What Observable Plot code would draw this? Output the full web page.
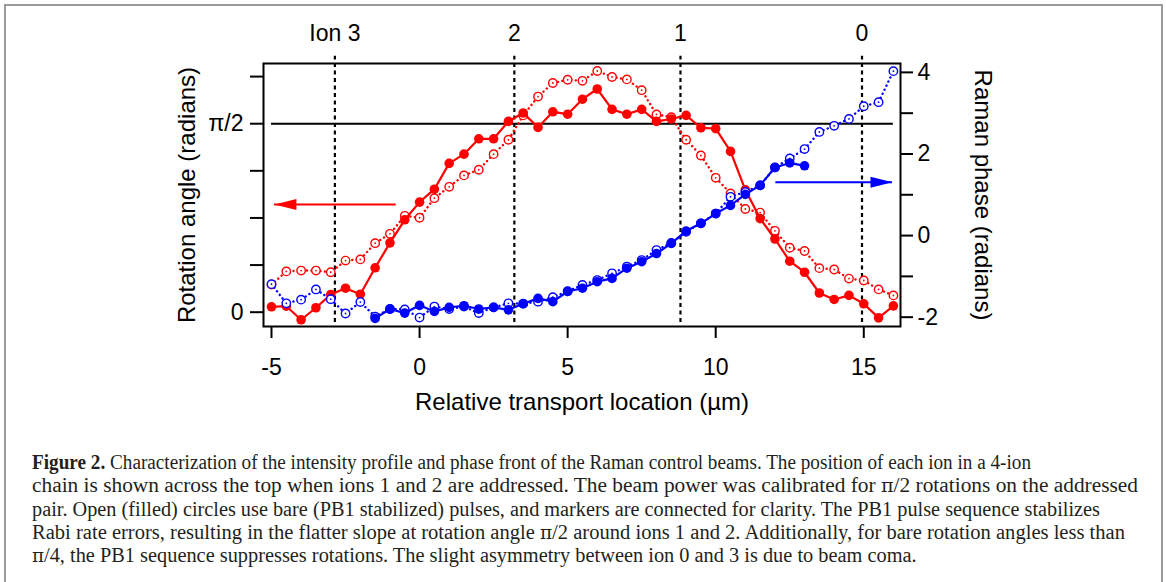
<!DOCTYPE html>
<html>
<head>
<meta charset="utf-8">
<script src="https://cdn.jsdelivr.net/npm/d3@7"></script>
<script src="https://cdn.jsdelivr.net/npm/@observablehq/plot@0.6"></script>
<style>
  html, body { margin: 0; padding: 0; background: #fff; width: 1166px; height: 582px; overflow: hidden; position: relative; }
  #border { position: absolute; left: 4px; top: 4px; width: 1155px; height: 640px; border: 2px solid #9a9a9a; border-bottom: none; }
  #chart { position: absolute; left: 0; top: 0; }
  #caption { position: absolute; left: 32px; top: 451px; font-family: "Liberation Serif", "DejaVu Serif", serif; font-size: 20px; line-height: 23.3px; color: #231f20; }
  #caption .ln { display: block; white-space: nowrap; }
  #caption .ln span.in { display: inline-block; transform-origin: 0 50%; }
  #caption i.pi { font-style: normal; font-family: "DejaVu Serif", serif; font-size: 18px; }
</style>
</head>
<body>
<div id="border"></div>
<div id="chart"></div>
<div id="caption"></div>
<script>
// ---- data ----
const xPos = [-5,-4.5,-4,-3.5,-3,-2.5,-2,-1.5,-1,-0.5,0,0.5,1,1.5,2,2.5,3,3.5,4,4.5,5,5.5,6,6.5,7,7.5,8,8.5,9,9.5,10,10.5,11,11.5,12,12.5,13,13.5,14,14.5,15,15.5,16];
// rotation angle (radians), bare pulses (open red)
const redOpen = [0.23,0.34,0.347,0.347,0.333,0.43,0.44,0.575,0.653,0.803,0.787,0.95,1.045,1.14,1.187,1.317,1.437,1.64,1.797,1.91,1.937,1.928,2.01,1.96,1.94,1.85,1.648,1.625,1.437,1.306,1.12,0.99,0.86,0.83,0.678,0.537,0.51,0.367,0.356,0.28,0.264,0.19,0.14];
// rotation angle (radians), PB1 pulses (filled red)
const redFilled = [0.045,0.05,-0.063,0.037,0.147,0.2,0.15,0.37,0.578,0.77,0.917,1.025,1.24,1.317,1.445,1.445,1.59,1.66,1.54,1.67,1.65,1.775,1.86,1.69,1.65,1.69,1.59,1.61,1.64,1.537,1.53,1.34,1.02,0.78,0.61,0.425,0.333,0.16,0.106,0.14,0.07,-0.047,0.053];
// Raman phase (radians), bare pulses (open blue)
const blueOpen = [-1.19,-1.66,-1.57,-1.32,-1.56,-1.91,-1.63,-1.985,-1.80,-1.81,-2.01,-1.74,-1.80,-1.74,-1.90,-1.76,-1.66,-1.67,-1.62,-1.51,-1.365,-1.21,-1.09,-0.925,-0.76,-0.6,-0.355,-0.18,0.09,0.3,0.54,0.95,1.07,1.23,1.67,1.89,2.12,2.54,2.69,2.86,3.17,3.27,4.03];
// Raman phase (radians), PB1 pulses (filled blue)
const xBlueFilled = [-1.5,-1,-0.5,0,0.5,1,1.5,2,2.5,3,3.5,4,4.5,5,5.5,6,6.5,7,7.5,8,8.5,9,9.5,10,10.5,11,11.5,12,12.5,13];
const blueFilled = [-2.03,-1.80,-1.90,-1.71,-1.86,-1.76,-1.72,-1.80,-1.76,-1.82,-1.67,-1.54,-1.62,-1.37,-1.29,-1.13,-1.05,-0.80,-0.64,-0.44,-0.19,0.11,0.30,0.54,0.74,1.01,1.23,1.67,1.78,1.71];

const ionPos = [-2.86, 3.2, 8.81, 14.94];
const ionLabels = ["Ion 3", "2", "1", "0"];
const xTicks = [-5, 0, 5, 10, 15];
const leftTicks = [0, Math.PI/8, Math.PI/4, 3*Math.PI/8, Math.PI/2, 5*Math.PI/8];
const leftTickLabels = ["0", "", "", "", "π/2", ""];
const rightTicks = [-2, -1, 0, 1, 2, 3, 4];
const rightTickLabels = ["-2", "", "0", "", "2", "", "4"];
const refAngle = [{y: Math.PI/2, from: -5, to: 16}];
// arrows: [start x, end x, level (left-axis units for red, phase for blue)]
const redArrow = [{from: -0.79, to: -4.9, level: 0.898}];
const blueArrow = [{from: 12.03, to: 15.97, level: 1.31}];

const xTitle = "Relative transport location (µm)";
const yTitleLeft = "Rotation angle (radians)";
const yTitleRight = "Raman phase (radians)";

const captionLines = [
  ['<b>Figure 2.</b> Characterization of the intensity profile and phase front of the Raman control beams. The position of each ion in a 4-ion', 999],
  ['chain is shown across the top when ions 1 and 2 are addressed. The beam power was calibrated for <i class="pi">π</i>/2 rotations on the addressed', 1106],
  ['pair. Open (filled) circles use bare (PB1 stabilized) pulses, and markers are connected for clarity. The PB1 pulse sequence stabilizes', 1068],
  ['Rabi rate errors, resulting in the flatter slope at rotation angle <i class="pi">π</i>/2 around ions 1 and 2. Additionally, for bare rotation angles less than', 1093],
  ['<i class="pi">π</i>/4, the PB1 sequence suppresses rotations. The slight asymmetry between ion 0 and 3 is due to beam coma.', null]
];

// ---- mapping of the right (phase) axis onto the left scale ----
const ph2y = p => 0.6385 + 0.34 * p;

const RED = "#ff0000", BLUE = "#0000ff";
const rO = xPos.map((x, i) => ({x, y: redOpen[i]}));
const rF = xPos.map((x, i) => ({x, y: redFilled[i]}));
const bO = xPos.map((x, i) => ({x, y: ph2y(blueOpen[i])}));
const bF = xBlueFilled.map((x, i) => ({x, y: ph2y(blueFilled[i])}));

const headRight = { draw(ctx) { ctx.moveTo(0, 0); ctx.lineTo(-22, -5.5); ctx.lineTo(-22, 5.5); ctx.closePath(); } };
const headLeft = { draw(ctx) { ctx.moveTo(0, 0); ctx.lineTo(22, -5.5); ctx.lineTo(22, 5.5); ctx.closePath(); } };

const dotted = {strokeDasharray: "0.1,4.4", strokeLinecap: "round", strokeWidth: 2.4};
const chart = Plot.plot({
  width: 1166,
  height: 440,
  marginLeft: 263,
  marginRight: 266,
  marginTop: 63,
  marginBottom: 114,
  style: {fontFamily: "'Liberation Sans', Arial, sans-serif", fontSize: "23px", background: "transparent", overflow: "visible", color: "#000"},
  x: {domain: [-5.27, 16.24]},
  y: {domain: [-0.1192, 2.0725]},
  marks: [
    Plot.ruleY(refAngle, {y: "y", x1: "from", x2: "to", stroke: "black", strokeWidth: 2}),
    Plot.ruleX(ionPos, {x: d => d, y1: -0.086, y2: 2.132, stroke: "black", strokeWidth: 2.2, strokeDasharray: "4,3.5"}),
    Plot.text(ionPos, {x: d => d, y: 2.324, text: (d, i) => ionLabels[i], fontSize: 23}),
    // red arrow
    Plot.ruleY(redArrow, {y: "level", x1: "from", x2: "to", stroke: RED, strokeWidth: 2}),
    Plot.dot(redArrow, {x: "to", y: "level", symbol: headLeft, fill: RED, stroke: "none"}),
    // blue arrow
    Plot.ruleY(blueArrow, {y: d => ph2y(d.level), x1: "from", x2: "to", stroke: BLUE, strokeWidth: 2}),
    Plot.dot(blueArrow, {x: "to", y: d => ph2y(d.level), symbol: headRight, fill: BLUE, stroke: "none"}),
    // red series
    Plot.line(rO, {x: "x", y: "y", stroke: RED, ...dotted}),
    Plot.dot(rO, {x: "x", y: "y", r: 4.2, stroke: RED, strokeWidth: 1.4, fill: "white"}),
    Plot.dot(rO, {x: "x", y: "y", r: 0.9, fill: RED}),
    Plot.line(rF, {x: "x", y: "y", stroke: RED, strokeWidth: 2.2}),
    Plot.dot(rF, {x: "x", y: "y", r: 4.8, fill: RED}),
    // blue series
    Plot.line(bO, {x: "x", y: "y", stroke: BLUE, ...dotted}),
    Plot.dot(bO, {x: "x", y: "y", r: 4.2, stroke: BLUE, strokeWidth: 1.4, fill: "white"}),
    Plot.dot(bO, {x: "x", y: "y", r: 0.9, fill: BLUE}),
    Plot.line(bF, {x: "x", y: "y", stroke: BLUE, strokeWidth: 2.2}),
    Plot.dot(bF, {x: "x", y: "y", r: 4.8, fill: BLUE}),
    // frame and axes
    Plot.frame({stroke: "black", strokeWidth: 2}),
    Plot.axisX(xTicks, {anchor: "bottom", tickSize: 12, tickPadding: 20, fontSize: 23, strokeWidth: 2, label: null, tickFormat: d => String(d)}),
    Plot.axisY(leftTicks, {anchor: "left", tickSize: 13, tickPadding: 7, fontSize: 23, strokeWidth: 2, label: null, tickFormat: (d, i) => leftTickLabels[i]}),
    Plot.axisY(rightTicks.map(ph2y), {anchor: "right", tickSize: 12, tickPadding: 5, fontSize: 23, strokeWidth: 2, label: null, tickFormat: (d, i) => rightTickLabels[i]}),
    Plot.text([xTitle], {frameAnchor: "bottom", dy: 83, fontSize: 24, textAnchor: "middle", text: d => d}),
    Plot.text([yTitleLeft], {frameAnchor: "left", dx: -76, rotate: -90, fontSize: 24, textAnchor: "middle", text: d => d}),
    Plot.text([yTitleRight], {frameAnchor: "right", dx: 82, rotate: 90, fontSize: 24, textAnchor: "middle", text: d => d})
  ]
});
document.getElementById("chart").appendChild(chart);

const cap = document.getElementById("caption");
const inners = [];
const scales = [];
captionLines.forEach(([html, w]) => {
  const ln = document.createElement("div");
  ln.className = "ln";
  const inner = document.createElement("span");
  inner.className = "in";
  inner.innerHTML = html;
  ln.appendChild(inner);
  cap.appendChild(ln);
  const natural = inner.getBoundingClientRect().width;
  inners.push([inner, natural, w]);
  if (w && natural > 0) scales.push(w / natural);
});
const avgScale = scales.reduce((a, b) => a + b, 0) / scales.length;
inners.forEach(([inner, natural, w]) => {
  const s = (w && natural > 0) ? w / natural : avgScale;
  inner.style.transform = `scaleX(${s})`;
});
</script>
</body>
</html>
